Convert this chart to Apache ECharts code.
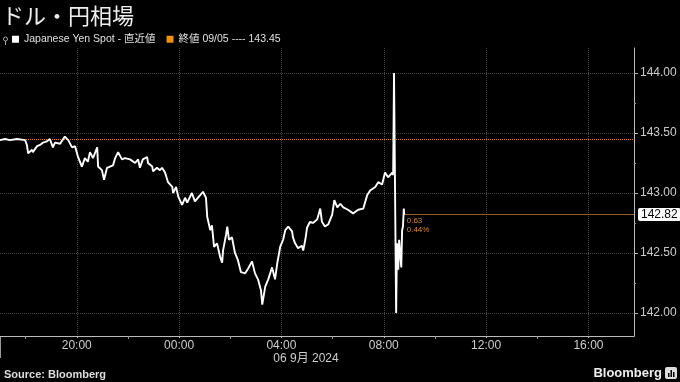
<!DOCTYPE html>
<html><head><meta charset="utf-8">
<script src="https://cdn.jsdelivr.net/npm/echarts@6/dist/echarts.min.js"></script>
<style>html,body{margin:0;padding:0;background:#000}#c{width:680px;height:382px}</style>
</head><body><div id="c"></div>
<script>
// ---- data ----
const times = ['17:00','17:12','17:23','17:40','17:59','18:03','18:06','18:15','18:17','18:27','18:34','18:41','18:50','18:57','19:04','19:09','19:21','19:32','19:40','19:49','19:56','20:03','20:12','20:19','20:26','20:31','20:38','20:48','20:50','20:59','21:04','21:11','21:18','21:25','21:30','21:37','21:46','21:53','22:05','22:17','22:24','22:28','22:35','22:45','22:47','22:57','22:59','23:08','23:15','23:20','23:27','23:34','23:44','23:46','23:53','23:58','00:07','00:14','00:19','00:30','00:37','00:49','00:56','01:03','01:06','01:13','01:17','01:22','01:29','01:36','01:41','01:43','01:50','01:53','01:57','02:04','02:11','02:18','02:25','02:35','02:42','02:51','02:58','03:05','03:12','03:15','03:22','03:29','03:38','03:45','03:50','03:57','04:04','04:09','04:16','04:25','04:27','04:32','04:39','04:48','04:51','04:56','05:00','05:07','05:14','05:24','05:31','05:35','05:42','05:50','05:59','06:04','06:11','06:18','06:25','06:36','06:48','07:00','07:12','07:21','07:28','07:40','07:47','07:56','08:03','08:10','08:20','08:22','08:24','08:29','08:31','08:34','08:36','08:41','08:43','08:45','08:47','08:48'];
const values = [143.44,143.45,143.44,143.45,143.44,143.40,143.33,143.36,143.34,143.39,143.40,143.42,143.43,143.45,143.38,143.42,143.41,143.47,143.44,143.38,143.39,143.30,143.22,143.29,143.26,143.34,143.29,143.38,143.22,143.19,143.11,143.21,143.22,143.23,143.29,143.34,143.28,143.29,143.28,143.25,143.28,143.21,143.28,143.30,143.25,143.22,143.18,143.21,143.19,143.21,143.17,143.09,143.05,143.00,143.05,142.97,142.90,142.96,142.92,143.00,142.93,142.98,143.01,142.96,142.80,142.69,142.73,142.55,142.58,142.47,142.42,142.52,142.65,142.72,142.61,142.63,142.50,142.44,142.34,142.33,142.37,142.43,142.33,142.28,142.19,142.07,142.22,142.28,142.38,142.28,142.41,142.55,142.61,142.69,142.72,142.68,142.63,142.58,142.54,142.56,142.52,142.61,142.71,142.76,142.75,142.78,142.87,142.76,142.72,142.74,142.82,142.94,142.88,142.91,142.88,142.86,142.83,142.86,142.87,142.98,143.02,143.05,143.09,143.07,143.17,143.13,143.17,143.15,144.00,142.00,142.58,142.36,142.61,142.38,142.69,142.72,142.87,142.82];
const xTickHours = [20,24,28,32,36,40];
const xMinorHours = [18,22,26,30,34,38];
const yTicks = [142,142.5,143,143.5,144];
const yMinorTicks = [142.25,142.75,143.25,143.75];
const prevClose = 143.45;
const lastValue = 142.82;
const changeAbs = '0.63';
const changePct = '0.44%';
const seriesName = 'Japanese Yen Spot - 直近値';
const closeName = '終値 09/05 ---- 143.45';
const titleText = 'ドル・円相場';
const dateText = '06 9月 2024';

// ---- build ----
const xMin = 17, xMax = 41.78;
const yMin = 141.808, yMax = 144.208;
function toHours(list){
  let day = 0, prev = -1;
  return list.map(t => {
    const [h, m] = t.split(':').map(Number);
    let v = h + m / 60 + day * 24;
    if (prev >= 0 && v < prev) { day++; v += 24; }
    prev = v; return v;
  });
}
const hours = toHours(times);
const points = hours.map((h, i) => [h, values[i]]);
const lastX = hours[hours.length - 1];
const pad = n => (n < 10 ? '0' : '') + n;
const FONT = '"Liberation Sans","Noto Sans CJK JP",sans-serif';

const chart = echarts.init(document.getElementById('c'), null, {renderer: 'canvas'});
chart.setOption({
  backgroundColor: '#000',
  animation: false,
  textStyle: {fontFamily: FONT},
  grid: {left: 0, right: 46, top: 48, bottom: 46, containLabel: false},
  legend: {
    left: 12, top: 34, padding: 0, itemGap: 11, icon: 'rect', itemWidth: 7, itemHeight: 7,
    textStyle: {color: '#e0e0e0', fontSize: 10.5, fontFamily: FONT},
    data: [seriesName, closeName], selectedMode: false
  },
  xAxis: [{
    type: 'value', min: xMin, max: xMax, position: 'bottom',
    axisLine: {show: true, lineStyle: {color: '#bbb', width: 1}},
    axisTick: {show: true, customValues: xTickHours, length: 2, lineStyle: {color: '#bbb'}},
    axisLabel: {customValues: xTickHours, formatter: v => pad(Math.round(v) % 24) + ':00', color: '#ccc', fontSize: 12, margin: 4, fontFamily: FONT},
    splitLine: {show: true, lineStyle: {color: '#444', type: 'dotted', width: 1}}
  }, {
    type: 'value', min: xMin, max: xMax, position: 'bottom',
    axisLine: {show: false}, axisLabel: {show: false}, splitLine: {show: false},
    axisTick: {show: true, customValues: xMinorHours, length: 3, lineStyle: {color: '#999'}}
  }],
  yAxis: [{
    type: 'value', position: 'right', min: yMin, max: yMax,
    axisLine: {show: true, lineStyle: {color: '#bbb', width: 1}},
    axisTick: {show: true, customValues: yTicks, length: 4, lineStyle: {color: '#bbb'}},
    axisLabel: {customValues: yTicks, formatter: v => v.toFixed(2), color: '#ccc', fontSize: 12, margin: 6, fontFamily: FONT},
    splitLine: {show: true, lineStyle: {color: '#444', type: 'dotted', width: 1}}
  }, {
    type: 'value', position: 'right', min: yMin, max: yMax,
    axisLine: {show: false}, axisLabel: {show: false}, splitLine: {show: false},
    axisTick: {show: true, customValues: yMinorTicks, length: 2, lineStyle: {color: '#999'}}
  }],
  series: [{
    type: 'line', name: seriesName, data: points, symbol: 'none', showSymbol: false,
    lineStyle: {color: '#fff', width: 1.9}, itemStyle: {color: '#fff'}, z: 5,
    markLine: {
      silent: true, symbol: ['none', 'none'], animation: false,
      data: [
        {yAxis: prevClose, lineStyle: {color: '#d8801c', type: 'dotted', width: 1}, label: {show: false}},
        [{coord: [lastX, lastValue], lineStyle: {color: '#9a5f23', type: 'solid', width: 1},
          label: {show: true, position: 'end', distance: 4, formatter: lastValue.toFixed(2), color: '#000',
            backgroundColor: '#fff', padding: [1, 3, 0, 3], borderRadius: 2, fontSize: 12, fontFamily: FONT}},
         {coord: [xMax, lastValue]}]
      ]
    },
    markPoint: {
      silent: true, animation: false,
      data: [{coord: [lastX, lastValue], symbol: 'rect', symbolSize: [1, 1], itemStyle: {color: 'rgba(0,0,0,0)'},
        label: {show: true, position: 'right', distance: 2, offset: [0, 11], formatter: changeAbs + '\n' + changePct,
          color: '#d98a2c', fontSize: 8, lineHeight: 9, fontFamily: FONT}}]
    }
  }, {
    type: 'line', name: closeName, data: [], itemStyle: {color: '#f0900f'}, lineStyle: {color: '#f0900f'}
  }],
  graphic: [
    {type: 'text', left: 2, top: 5, style: {text: titleText, fill: '#eee', font: '22px "Noto Sans CJK JP"'}},
    {type: 'circle', shape: {cx: 5.5, cy: 39, r: 2}, style: {stroke: '#aaa', fill: 'none', lineWidth: 1}},
    {type: 'line', shape: {x1: 5.5, y1: 41, x2: 5.5, y2: 45}, style: {stroke: '#aaa', lineWidth: 1}},
    {type: 'line', shape: {x1: 0.5, y1: 336, x2: 0.5, y2: 358}, style: {stroke: '#999', lineWidth: 1}},
    {type: 'text', x: 306, y: 359, style: {text: dateText, fill: '#ccc', font: '12px ' + FONT, align: 'center', verticalAlign: 'middle'}},
    {type: 'text', x: 4, y: 375, style: {text: 'Source: Bloomberg', fill: '#ddd', font: 'bold 11px ' + FONT, verticalAlign: 'middle'}},
    {type: 'text', x: 662, y: 373, style: {text: 'Bloomberg', fill: '#eee', font: 'bold 13px ' + FONT, align: 'right', verticalAlign: 'middle'}},
    {type: 'rect', shape: {x: 665, y: 367, width: 12, height: 12, r: 2}, style: {fill: '#ddd'}},
    {type: 'rect', shape: {x: 668, y: 373, width: 1.5, height: 4}, style: {fill: '#000'}},
    {type: 'rect', shape: {x: 670.5, y: 370, width: 1.5, height: 7}, style: {fill: '#000'}},
    {type: 'rect', shape: {x: 673, y: 372, width: 1.5, height: 5}, style: {fill: '#000'}}
  ]
});
</script></body></html>
